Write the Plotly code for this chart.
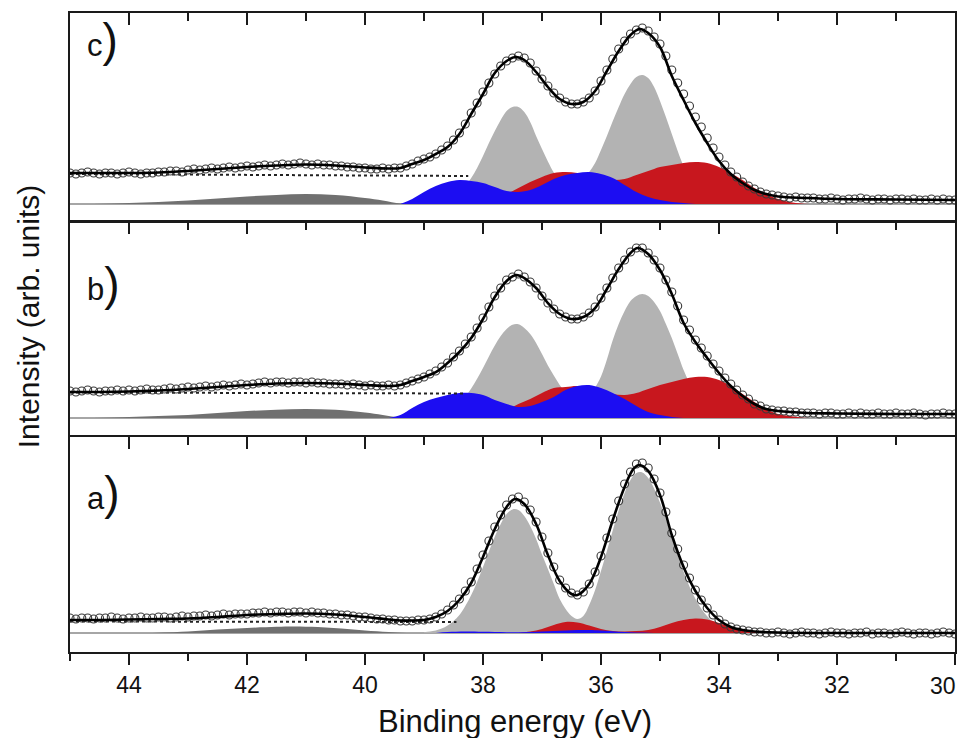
import plotly.graph_objects as go


def grid(start, stop, step):
    n = int(round((start - stop) / step))
    return [round(start - i * step, 2) for i in range(n + 1)]


# ---------------- energy grid of measured points (eV) ----------------
E_DATA = grid(45.0, 30.0, 0.1)

# ---------------- panel c ----------------
C_DATA = [31, 30, 31, 32, 31, 30, 31, 31, 30, 31, 32, 31, 30, 31, 31, 32,
          32, 33, 33, 32, 34, 35, 34, 35, 36, 35, 36, 37, 36, 37, 38,
          37, 38, 39, 38, 39, 40, 39, 40, 41, 40, 39, 40, 39, 39, 38,
          38, 37, 37, 36, 36, 35, 35, 36, 35, 36,
          36, 38, 40, 43, 45, 47, 50, 54, 58, 64,
          71, 80, 91, 101, 112, 121, 130, 138, 143, 146,
          148, 146, 141, 133, 125, 118, 111, 106, 102, 100,
          100, 102, 106, 113, 123, 134, 145, 155, 163, 170,
          174, 176, 173, 167, 160, 148, 134, 121, 110, 98,
          87, 77, 66, 56, 47, 39, 32, 27, 22, 18,
          15, 12, 10, 9, 8, 7, 6, 7, 6, 6,
          6, 5, 5, 6, 5, 4, 5, 5, 6, 5, 4, 5, 5, 4, 5, 5, 4, 5, 4, 4, 5, 4, 5, 4, 4]
C_FIT_E = [45.0, 44.5, 44.0, 43.5, 43.0, 42.5, 42.0, 41.5, 41.0, 40.5,
           40.0, 39.6, 39.4, 39.2, 39.0, 38.8, 38.6, 38.4, 38.2, 38.0,
           37.8, 37.6, 37.45, 37.3, 37.1, 36.9, 36.7, 36.5, 36.3, 36.1,
           35.9, 35.7, 35.5, 35.35, 35.2, 35.0, 34.8, 34.6, 34.4, 34.2,
           34.0, 33.8, 33.6, 33.4, 33.2, 33.0, 32.5, 32.0, 31.0, 30.0]
C_FIT_I = [31, 31, 31, 31.5, 33, 35, 37, 38.5, 39.5, 38.5,
           36.5, 35.5, 36, 40, 44, 50, 57, 70, 90, 110,
           131, 143, 147, 144, 132, 117, 105, 100, 102, 113,
           133, 153, 169, 175, 171, 157, 128, 104, 81, 61,
           43, 30, 21, 14, 10, 7.5, 6, 5, 4.5, 4]
C_GRAY_E = grid(38.9, 33.8, 0.1)
C_GRAY_I = [0.5, 1.3, 2.5, 4.3, 7.3, 11.6, 18, 26, 36, 48,
            61, 73, 84, 93, 97, 97, 92, 82, 68, 55,
            42.5, 31.5, 24, 20, 17, 19, 24.5, 32, 41, 54,
            68, 83, 97, 110, 120, 127, 129, 126, 117, 103,
            87, 70, 53, 38, 26.5, 17.4, 11, 6.5, 3.7, 2,
            1, 0]
C_RED_E = grid(38.2, 32.4, 0.2)
C_RED_I = [0, 2, 5, 10, 16, 22, 27, 31, 32, 31, 29, 26, 24, 25, 29,
           33, 37, 39, 41, 42, 41, 37, 31, 24, 16, 10, 5, 2, 0.5, 0]
C_BLUE_E = grid(39.4, 34.4, 0.2)
C_BLUE_I = [0, 5, 12, 18, 22, 24, 23, 21, 17, 13, 12, 14, 19, 25, 29,
            31, 32, 30, 26, 19, 12, 7, 4, 2, 1, 0]
SAT_E = [44.6, 44.0, 43.5, 43.0, 42.5, 42.0, 41.5, 41.0, 40.5, 40.0, 39.7, 39.4, 39.2]
C_SAT_I = [0, 1, 2, 3.5, 5.5, 7.5, 9, 10, 9, 6, 3.5, 0.5, 0]
C_BG_E = [45.0, 38.25]
C_BG_I = [30, 28]

# ---------------- panel b ----------------
B_DATA = [27, 26, 27, 28, 27, 26, 27, 27, 28, 27, 28, 27, 28, 29, 28, 28,
          29, 30, 29, 30, 31, 30, 31, 32, 31, 32, 33, 32, 33, 34, 33,
          34, 35, 36, 35, 36, 36, 35, 36, 36, 35, 36, 35, 35, 34, 34,
          34, 33, 34, 33, 32, 33, 32, 32, 33, 32,
          33, 35, 37, 39, 41, 44, 47, 51, 55, 61,
          67, 74, 81, 90, 100, 111, 122, 130, 138, 141,
          144, 141, 136, 130, 122, 115, 109, 104, 101, 99,
          99, 101, 105, 111, 120, 130, 140, 150, 158, 166,
          170, 170, 165, 158, 150, 138, 126, 112, 98, 88,
          78, 70, 62, 54, 47, 40, 34, 28, 23, 19,
          14, 12, 9, 8, 7, 7, 6, 6, 5, 5,
          5, 4, 5, 5, 4, 4, 5, 4, 5, 4, 4, 5, 4, 4, 5, 4, 4, 5, 4, 3, 4, 4, 5, 4, 4]
B_FIT_E = [45.0, 44.5, 44.0, 43.5, 43.0, 42.5, 42.0, 41.5, 41.0, 40.5,
           40.0, 39.6, 39.4, 39.2, 39.0, 38.8, 38.6, 38.4, 38.2, 38.0,
           37.8, 37.6, 37.44, 37.3, 37.1, 36.9, 36.7, 36.5, 36.3, 36.1,
           35.9, 35.7, 35.5, 35.38, 35.2, 35.0, 34.8, 34.6, 34.4, 34.2,
           34.0, 33.8, 33.6, 33.4, 33.2, 33.0, 32.5, 32.0, 31.0, 30.0]
B_FIT_I = [26, 26, 26.5, 27.5, 29, 31, 33, 34.5, 35, 34.5,
           33, 32, 33, 37, 41, 46, 55, 66, 80, 99,
           121, 137, 143, 140, 130, 115, 104, 99, 101, 110,
           129, 149, 165, 170, 164, 148, 124, 95, 76, 60,
           45, 32, 22, 14, 9, 7, 5, 4.5, 4, 4]
B_GRAY_E = grid(38.9, 33.8, 0.1)
B_GRAY_I = [1.3, 2.3, 3.9, 6.4, 10, 15, 21.4, 29.6, 39.3, 50,
            61.6, 72.5, 82, 89, 93.3, 93.7, 90, 84, 75, 64,
            52.5, 42.5, 33, 25, 20, 18, 19, 23, 30.6, 41.5,
            58.5, 78, 94, 107, 117, 122, 124, 122, 116, 107,
            94, 80, 64, 48, 35, 24, 15, 9, 5, 2.5,
            1, 0]
B_RED_E = grid(38.2, 32.4, 0.2)
B_RED_I = [0, 1, 4, 8, 14, 19, 25, 30, 31, 32, 30, 27, 24, 23, 25,
           29, 33, 36, 39, 41, 41, 38, 32, 24, 16, 9, 4, 2, 0.5, 0]
B_BLUE_E = grid(39.6, 34.6, 0.2)
B_BLUE_I = [0, 3, 10, 16, 20, 23, 25, 25, 23, 18, 14, 11, 12, 16, 21,
            28, 32, 33, 30, 25, 19, 12, 6, 3, 1, 0]
B_SAT_I = [0, 1, 2, 3, 5, 7, 8.3, 9, 8.2, 5.5, 3, 0.5, 0]
B_BG_E = [45.0, 38.3]
B_BG_I = [25.5, 24.5]

# ---------------- panel a ----------------
A_DATA = [15, 14, 15, 15, 14, 15, 15, 16, 15, 14, 15, 15, 16, 15, 15, 16,
          16, 15, 16, 17, 16, 17, 17, 18, 17, 18, 19, 18, 19, 19, 19,
          20, 20, 21, 20, 21, 21, 20, 21, 21, 20, 21, 20, 20, 19, 19,
          18, 18, 17, 16, 16, 15, 14, 14, 13, 13,
          12, 12, 12, 13, 13, 14, 16, 19, 23, 28,
          34, 42, 51, 64, 78, 92, 106, 118, 128, 134,
          136, 131, 123, 111, 96, 80, 66, 53, 45, 40,
          38, 41, 49, 61, 77, 95, 114, 132, 149, 161,
          169, 170, 165, 154, 140, 121, 100, 84, 68, 55,
          43, 33, 25, 18, 13, 9, 6, 4, 3, 2,
          1, 1, 0, 0, 1, 0, -1, 0, 1, 0,
          0, -1, 0, 1, 0, 0, -1, 0, 0, 1, -1, 0, 0, -1, 0, 1, 0, -1, 0, 0, -1, 0, 1, 0, -1]
A_FIT_E = [45.0, 44.5, 44.0, 43.5, 43.0, 42.5, 42.0, 41.5, 41.0, 40.5,
           40.0, 39.6, 39.4, 39.2, 39.0, 38.8, 38.6, 38.4, 38.2, 38.0,
           37.8, 37.6, 37.46, 37.3, 37.1, 36.9, 36.7, 36.5, 36.4, 36.2,
           36.0, 35.8, 35.6, 35.45, 35.35, 35.2, 35.0, 34.8, 34.6, 34.4,
           34.2, 34.0, 33.8, 33.6, 33.4, 33.0, 32.0, 31.0, 30.0]
A_FIT_I = [13, 13, 13.5, 14, 14.5, 16, 18, 19, 19.5, 18.5,
           16, 13.5, 12.5, 12.5, 13, 16, 22, 33, 50, 76,
           104, 126, 134, 129, 109, 78, 52, 39, 38, 49,
           76, 113, 146, 164, 168, 162, 138, 98, 66, 42,
           25, 13, 6, 3, 1.5, 0.5, 0, 0, 0]
A_GRAY_E = grid(39.0, 33.5, 0.1)
A_GRAY_I = [0.7, 1.4, 2.5, 4.4, 7.4, 12, 18, 27, 38, 51,
            66, 81.5, 96.5, 109, 119, 123.6, 123, 117, 107, 94,
            78.5, 64, 49, 34, 24, 17, 14, 17, 28, 43,
            62, 82, 102.7, 122.7, 140, 153, 160, 160.5, 155, 144.6,
            130.4, 113.8, 95.8, 78, 61.3, 46.6, 34.2, 24.3, 16.7, 11,
            7, 4.4, 2.6, 1.5, 0.8, 0]
A_RED_E = grid(37.4, 33.2, 0.2)
A_RED_I = [0, 1.5, 4, 8, 11, 10.5, 7.5, 4, 2, 1.5, 2, 3, 6, 10, 13,
           14.5, 13.5, 10, 6, 3, 1, 0]
A_BLUE_E = [38.8, 38.6, 38.3, 38.0, 37.6, 37.2, 36.8, 36.4, 36.2, 36.0, 35.6, 35.2, 35.0]
A_BLUE_I = [0, 1, 1.5, 1.2, 0.8, 1, 2, 3, 3, 2.5, 1, 0.3, 0]
A_SAT_E = [43.6, 43.0, 42.5, 42.0, 41.5, 41.2, 40.8, 40.4, 40.0, 39.6, 39.3]
A_SAT_I = [0, 1.5, 3.5, 5, 6.2, 6.5, 6, 4.5, 2.5, 1, 0]
A_BG_E = [45.0, 38.45]
A_BG_I = [11.5, 11]

PANEL_LABELS = ["c", "b", "a"]
X_TICKS = [44, 42, 40, 38, 36, 34, 32, 30]
X_TICK_TEXT = ["44", "42", "40", "38", "36", "34", "32", ""]
EDGE_TICK = 30          # its label is drawn right-aligned at the frame edge
EDGE_TICK_TEXT = "30"

# ---------------- styles ----------------
GRAY = "#b3b3b3"
DARK = "#707070"
RED = "#c8171e"
BLUE = "#1c0df2"
FRAME = "#1a1a1a"

panels = [
    dict(ax="", data=C_DATA, fe=C_FIT_E, fi=C_FIT_I, ge=C_GRAY_E, gi=C_GRAY_I,
         re=C_RED_E, ri=C_RED_I, be=C_BLUE_E, bi=C_BLUE_I, se=SAT_E, si=C_SAT_I,
         bge=C_BG_E, bgi=C_BG_I, yr=[-17, 191], dom=[0.6745, 1.0]),
    dict(ax="2", data=B_DATA, fe=B_FIT_E, fi=B_FIT_I, ge=B_GRAY_E, gi=B_GRAY_I,
         re=B_RED_E, ri=B_RED_I, be=B_BLUE_E, bi=B_BLUE_I, se=SAT_E, si=B_SAT_I,
         bge=B_BG_E, bgi=B_BG_I, yr=[-17, 196], dom=[0.3396, 0.6729]),
    dict(ax="3", data=A_DATA, fe=A_FIT_E, fi=A_FIT_I, ge=A_GRAY_E, gi=A_GRAY_I,
         re=A_RED_E, ri=A_RED_I, be=A_BLUE_E, bi=A_BLUE_I, se=A_SAT_E, si=A_SAT_I,
         bge=A_BG_E, bgi=A_BG_I, yr=[-19, 196], dom=[0.0, 0.3365]),
]

fig = go.Figure()


def area(x, y, color, xa, ya):
    return go.Scatter(x=x, y=y, mode="lines", line=dict(color=color, width=0, shape="spline"),
                      fill="tozeroy", fillcolor=color, xaxis=xa, yaxis=ya,
                      showlegend=False, hoverinfo="skip")


for p in panels:
    xa, ya = "x" + p["ax"], "y" + p["ax"]
    fig.add_trace(go.Scatter(x=[45, 30], y=[0, 0], mode="lines",
                             line=dict(color="#a6a6a6", width=2), xaxis=xa, yaxis=ya,
                             showlegend=False, hoverinfo="skip"))
    fig.add_trace(area(p["se"], p["si"], DARK, xa, ya))
    fig.add_trace(area(p["ge"], p["gi"], GRAY, xa, ya))
    fig.add_trace(area(p["re"], p["ri"], RED, xa, ya))
    fig.add_trace(area(p["be"], p["bi"], BLUE, xa, ya))
    fig.add_trace(go.Scatter(x=p["bge"], y=p["bgi"], mode="lines",
                             line=dict(color="#222", width=2, dash="dot"),
                             xaxis=xa, yaxis=ya, showlegend=False, hoverinfo="skip"))
    fig.add_trace(go.Scatter(x=E_DATA, y=p["data"], mode="markers",
                             marker=dict(symbol="circle-open", size=8, color="#3a3a3a",
                                         line=dict(width=1.1)),
                             xaxis=xa, yaxis=ya, showlegend=False))
    fig.add_trace(go.Scatter(x=p["fe"], y=p["fi"], mode="lines",
                             line=dict(color="black", width=2.6, shape="spline"),
                             xaxis=xa, yaxis=ya, showlegend=False))

# invisible trace for the labelled bottom axis
fig.add_trace(go.Scatter(x=[45, 30], y=[0, 0], mode="markers", marker=dict(opacity=0),
                         xaxis="x4", yaxis="y3", showlegend=False, hoverinfo="skip"))

# the page body keeps its 8 px margin, so the figure is 8 px smaller and shifted
layout = dict(width=965, height=730, margin=dict(l=62, r=18, t=5, b=86),
              paper_bgcolor="white", plot_bgcolor="white",
              font=dict(family="Liberation Sans, Arial, sans-serif", color="#111"))

for p in panels:
    ax = p["ax"]
    layout["xaxis" + ax] = dict(range=[45, 30], anchor="y" + ax, side="top",
                                ticks="inside", ticklen=12, tickwidth=2, tickcolor=FRAME,
                                tickvals=X_TICKS, showticklabels=False,
                                minor=dict(ticks="inside", ticklen=8, tickwidth=2,
                                           tickcolor=FRAME, dtick=1, tick0=30, showgrid=False),
                                showline=True, linecolor=FRAME, linewidth=2, mirror=True,
                                showgrid=False, zeroline=False)
    layout["yaxis" + ax] = dict(range=p["yr"], domain=p["dom"], anchor="x" + ax,
                                showline=True, linecolor=FRAME, linewidth=2, mirror=True,
                                ticks="", showticklabels=False, showgrid=False, zeroline=False)

layout["xaxis4"] = dict(range=[45, 30], anchor="y3", overlaying="x3", side="bottom",
                        ticks="outside", ticklen=12, tickwidth=2, tickcolor=FRAME,
                        tickvals=X_TICKS, ticktext=X_TICK_TEXT,
                        tickfont=dict(size=23, color="#111"),
                        minor=dict(ticks="outside", ticklen=8, tickwidth=2, tickcolor=FRAME,
                                   dtick=1, tick0=30, showgrid=False),
                        showline=False, showgrid=False, zeroline=False)

fig.update_layout(**layout)

annotations = [
    dict(text="Binding energy (eV)", x=0.503, y=-0.1095, xref="paper", yref="paper",
         xanchor="center", yanchor="middle", showarrow=False, font=dict(size=31, color="#111")),
    dict(text="Intensity (arb. units)", x=-0.0474, y=0.524, xref="paper", yref="paper",
         xanchor="center", yanchor="middle", textangle=-90, showarrow=False,
         font=dict(size=30, color="#111")),
    dict(text=EDGE_TICK_TEXT, x=EDGE_TICK, xref="x3", y=-0.0532, yref="paper",
         xanchor="right", yanchor="middle", xshift=3, showarrow=False,
         font=dict(size=23, color="#111")),
]
label_y = [0.958, 0.576, 0.249]
for lab, ly in zip(PANEL_LABELS, label_y):
    annotations.append(dict(text=lab + "<span style='font-size:46px'>)</span>", x=0.017, y=ly,
                            xref="paper", yref="paper", xanchor="left", yanchor="middle",
                            showarrow=False, font=dict(size=31, color="#111")))
fig.update_layout(annotations=annotations)

# hide the window scrollbars and the mode bar
fig.write_html("out.html", config={"displayModeBar": False},
               post_script="document.documentElement.style.overflow='hidden';")
